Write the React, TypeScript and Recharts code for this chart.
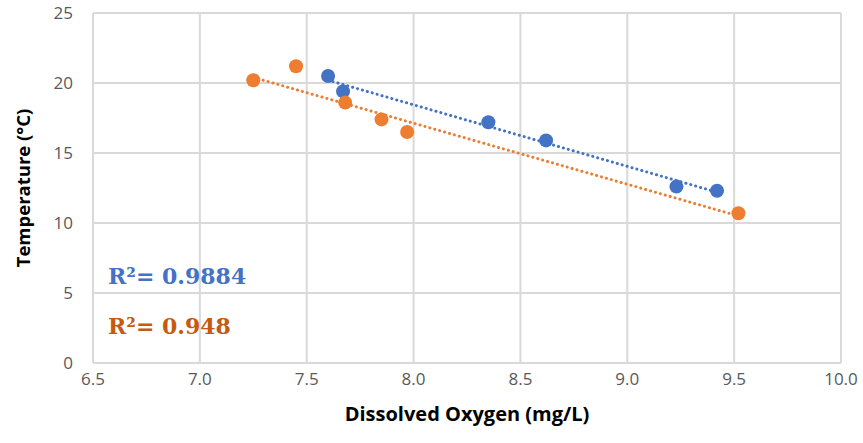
import { ScatterChart, Scatter, XAxis, YAxis, CartesianGrid, Label } from 'recharts';

// Blue series (dissolved oxygen vs temperature)
const blueDO = [7.6, 7.67, 8.35, 8.62, 9.23, 9.42];
const blueTemp = [20.5, 19.4, 17.2, 15.9, 12.6, 12.3];

// Orange series
const orangeDO = [7.25, 7.45, 7.68, 7.85, 7.97, 9.52];
const orangeTemp = [20.2, 21.2, 18.6, 17.4, 16.5, 10.7];

// Trendline endpoints
const blueTrendDO = [7.6, 9.42];
const blueTrendTemp = [20.2, 12.2];
const orangeTrendDO = [7.25, 9.52];
const orangeTrendTemp = [20.4, 10.5];

const xTicks = [6.5, 7.0, 7.5, 8.0, 8.5, 9.0, 9.5, 10.0];
const yTicks = [0, 5, 10, 15, 20, 25];

const blueR2 = 'R²= 0.9884';
const orangeR2 = 'R²= 0.948';

const BLUE = '#4472C4';
const ORANGE = '#ED7D31';
const GRID = '#d9d9d9';

const toPoints = (xs: number[], ys: number[]) => xs.map((x, i) => ({ x, y: ys[i] }));

const blueData = toPoints(blueDO, blueTemp);
const orangeData = toPoints(orangeDO, orangeTemp);
const blueTrend = toPoints(blueTrendDO, blueTrendTemp);
const orangeTrend = toPoints(orangeTrendDO, orangeTrendTemp);

const tickStyle = { fill: '#595959', fontSize: 17, fontFamily: '"Open Sans", sans-serif' };

export default function App() {
    return (
        <div style={{ position: 'absolute', left: 0, top: 0, width: 863, height: 443, background: '#fff' }}>
            <ScatterChart width={863} height={443} margin={{ top: 13, right: 22, bottom: 0, left: 0 }}>
                <CartesianGrid stroke={GRID} strokeWidth={2} />
                <XAxis
                    type="number"
                    dataKey="x"
                    domain={[6.5, 10]}
                    ticks={xTicks}
                    tickFormatter={(v: number) => v.toFixed(1)}
                    height={80}
                    tick={tickStyle}
                    tickSize={0}
                    tickMargin={10}
                    axisLine={{ stroke: GRID, strokeWidth: 2 }}
                    allowDataOverflow
                >
                    <Label
                        value="Dissolved Oxygen (mg/L)"
                        position="insideBottom"
                        offset={22}
                        style={{ fill: '#000', fontSize: 20, fontWeight: 'bold', fontFamily: '"Open Sans", sans-serif' }}
                    />
                </XAxis>
                <YAxis
                    type="number"
                    dataKey="y"
                    domain={[0, 25]}
                    ticks={yTicks}
                    width={93}
                    tick={tickStyle}
                    tickSize={0}
                    tickMargin={20}
                    axisLine={{ stroke: GRID, strokeWidth: 2 }}
                    allowDataOverflow
                >
                    <Label
                        value="Temperature (°C)"
                        angle={-90}
                        position="insideLeft"
                        offset={23}
                        style={{ textAnchor: 'middle', fill: '#000', fontSize: 18.5, fontWeight: 'bold', fontFamily: '"Open Sans", sans-serif' }}
                    />
                </YAxis>
                <Scatter
                    data={blueTrend}
                    line={{ stroke: BLUE, strokeWidth: 3, strokeDasharray: '0.1 5', strokeLinecap: 'round' }}
                    shape={() => <g />}
                    isAnimationActive={false}
                />
                <Scatter
                    data={orangeTrend}
                    line={{ stroke: ORANGE, strokeWidth: 3, strokeDasharray: '0.1 5', strokeLinecap: 'round' }}
                    shape={() => <g />}
                    isAnimationActive={false}
                />
                <Scatter
                    data={blueData}
                    fill={BLUE}
                    shape={(p: any) => <circle cx={p.cx} cy={p.cy} r={7} fill={BLUE} />}
                    isAnimationActive={false}
                />
                <Scatter
                    data={orangeData}
                    fill={ORANGE}
                    shape={(p: any) => <circle cx={p.cx} cy={p.cy} r={7} fill={ORANGE} />}
                    isAnimationActive={false}
                />
            </ScatterChart>
            <div style={{ position: 'absolute', left: 108, top: 263, color: BLUE, fontSize: 22, fontWeight: 'bold', fontFamily: '"DejaVu Serif", serif', whiteSpace: 'nowrap' }}>
                {blueR2}
            </div>
            <div style={{ position: 'absolute', left: 108, top: 313, color: '#C55A11', fontSize: 22, fontWeight: 'bold', fontFamily: '"DejaVu Serif", serif', whiteSpace: 'nowrap' }}>
                {orangeR2}
            </div>
        </div>
    );
}
